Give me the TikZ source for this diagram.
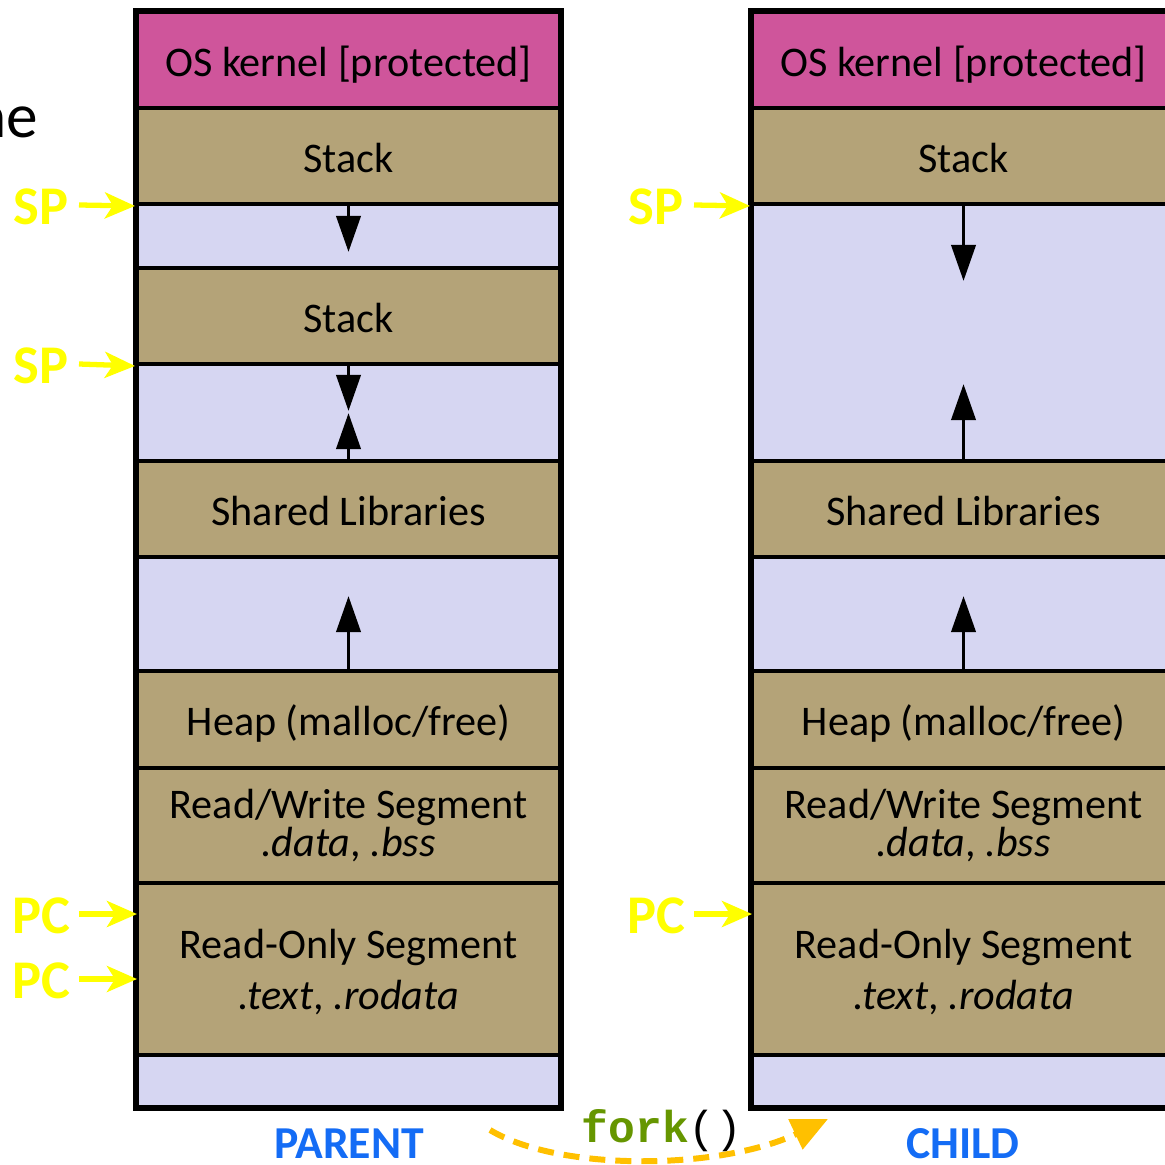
\documentclass[tikz,border=0pt]{standalone}
\usepackage{fontspec}
\setmainfont{Carlito}
\setmonofont{Liberation Mono}
\usetikzlibrary{arrows.meta,calc}

\definecolor{kernelpink}{RGB}{207,85,155}
\definecolor{segtan}{RGB}{180,163,120}
\definecolor{freelav}{RGB}{214,214,242}
\definecolor{ptryellow}{RGB}{255,255,0}
\definecolor{procblue}{RGB}{20,108,245}
\definecolor{forkgreen}{RGB}{102,150,0}
\definecolor{forkorange}{RGB}{255,192,0}

\begin{document}
\begin{tikzpicture}[
    x=0.01cm, y=-0.01cm,
    seg/.style={
        draw=black,
        line width=1.1pt,
        inner sep=0pt,
        minimum width=4.23cm,
        font=\fontsize{12}{14.5}\selectfont,
        align=center
    },
    oneline/.style={text height=10.2pt, text depth=0.9pt},
    kernelseg/.style={seg, oneline, fill=kernelpink},
    usedseg/.style={seg, fill=segtan},
    freeseg/.style={seg, fill=freelav},
    growarrow/.style={
        -{Triangle[length=0.36cm, width=0.24cm]},
        line width=1.1pt
    },
    ptrlabel/.style={
        text=ptryellow,
        font=\fontsize{15.5}{16}\selectfont\bfseries,
        inner sep=0pt
    },
    ptrarrow/.style={
        -{Stealth[length=0.3cm, width=0.26cm, inset=0.08cm]},
        line width=1.5pt,
        draw=ptryellow
    },
    proclabel/.style={
        text=procblue,
        inner sep=0pt,
        font=\fontsize{13}{14}\selectfont\bfseries
    }
]
    \useasboundingbox (0,0) rectangle (1165,1164);

    % cut-off slide text
    \node[anchor=base east, font=\fontsize{18}{20}\selectfont, inner sep=0pt] (cutoff) at (39,138) {ne};

    % parent address space
    \node[kernelseg, minimum height=0.96cm] (kerL) at (348.5,60) {OS kernel [protected]};
    \node[usedseg, oneline, minimum height=0.96cm] (stkL) at (348.5,156) {Stack};
    \node[freeseg, minimum height=0.64cm] (frAL) at (348.5,236) {};
    \node[usedseg, oneline, minimum height=0.96cm] (stkBL) at (348.5,316) {Stack};
    \node[freeseg, minimum height=0.97cm] (frBL) at (348.5,412.5) {};
    \node[usedseg, oneline, minimum height=0.96cm] (libL) at (348.5,509) {Shared Libraries};
    \node[freeseg, minimum height=1.14cm] (frCL) at (348.5,614) {};
    \node[usedseg, oneline, minimum height=0.97cm] (heapL) at (348.5,719.5) {Heap (malloc/free)};
    \node[usedseg, minimum height=1.15cm] (rwL) at (348.5,825.5) {Read/Write Segment\\[-3.5pt]\textit{.data}, \textit{.bss}};
    \node[usedseg, text depth=0pt, minimum height=1.72cm] (roL) at (348.5,969) {Read-Only Segment\\\textit{.text}, \textit{.rodata}};
    \node[freeseg, minimum height=0.52cm] (frDL) at (348.5,1081) {};
    \draw[line width=1.3pt] (kerL.north west) rectangle (frDL.south east);

    % child address space
    \node[kernelseg, minimum height=0.96cm] (kerR) at (963.5,60) {OS kernel [protected]};
    \node[usedseg, oneline, minimum height=0.96cm] (stkR) at (963.5,156) {Stack};
    \node[freeseg, minimum height=2.57cm] (frAR) at (963.5,332.5) {};
    \node[usedseg, oneline, minimum height=0.96cm] (libR) at (963.5,509) {Shared Libraries};
    \node[freeseg, minimum height=1.14cm] (frCR) at (963.5,614) {};
    \node[usedseg, oneline, minimum height=0.97cm] (heapR) at (963.5,719.5) {Heap (malloc/free)};
    \node[usedseg, minimum height=1.15cm] (rwR) at (963.5,825.5) {Read/Write Segment\\[-3.5pt]\textit{.data}, \textit{.bss}};
    \node[usedseg, text depth=0pt, minimum height=1.72cm] (roR) at (963.5,969) {Read-Only Segment\\\textit{.text}, \textit{.rodata}};
    \node[freeseg, minimum height=0.52cm] (frDR) at (963.5,1081) {};
    \draw[line width=1.3pt] (kerR.north west) rectangle (frDR.south east);

    % growth arrows
    \coordinate (tipAL) at (348.5,252);
    \coordinate (tipBL) at (348.5,411);
    \coordinate (tipCL) at (348.5,413);
    \coordinate (tipDL) at (348.5,596);
    \draw[growarrow] (stkL.south) -- (tipAL);
    \draw[growarrow] (stkBL.south) -- (tipBL);
    \draw[growarrow] (libL.north) -- (tipCL);
    \draw[growarrow] (heapL.north) -- (tipDL);

    \coordinate (tipAR) at (963.5,281);
    \coordinate (tipBR) at (963.5,384);
    \coordinate (tipDR) at (963.5,596);
    \draw[growarrow] (stkR.south) -- (tipAR);
    \draw[growarrow] (libR.north) -- (tipBR);
    \draw[growarrow] (heapR.north) -- (tipDR);

    % stack and program counters
    \node[ptrlabel, anchor=east] (spAL) at (69,207) {SP};
    \node[ptrlabel, anchor=east] (spBL) at (69,366) {SP};
    \node[ptrlabel, anchor=east] (pcAL) at (71,916) {PC};
    \node[ptrlabel, anchor=east] (pcBL) at (71,981) {PC};
    \node[ptrlabel, anchor=east] (spAR) at (684,207) {SP};
    \node[ptrlabel, anchor=east] (pcAR) at (686,916) {PC};
    \coordinate (pcAtL) at (137,914);
    \coordinate (pcBtL) at (137,979);
    \coordinate (pcAtR) at (752,914);
    \draw[ptrarrow] (spAL.east) ++(10,-2) -- (stkL.south west);
    \draw[ptrarrow] (spBL.east) ++(10,-2) -- (stkBL.south west);
    \draw[ptrarrow] (pcAL.east) ++(8,-2) -- (pcAtL);
    \draw[ptrarrow] (pcBL.east) ++(8,-2) -- (pcBtL);
    \draw[ptrarrow] (spAR.east) ++(10,-2) -- (stkR.south west);
    \draw[ptrarrow] (pcAR.east) ++(8,-2) -- (pcAtR);

    % process names and fork
    \node[proclabel] (parent) at (349,1144) {PARENT};
    \node[proclabel] (child) at (963,1144) {CHILD};
    \node[font=\fontsize{12.7}{14}\selectfont\ttfamily] (fork) at (662,1131) {\textcolor{forkgreen}{\textbf{fork}}()};
    \coordinate (forkS) at (490,1130);
    \coordinate (forkE) at (828,1119);
    \draw[forkorange, line width=1.7pt, dash pattern=on 0.16cm off 0.1cm,
        -{Triangle[length=0.36cm, width=0.32cm]}]
        (forkS) .. controls (560,1172) and (720,1170) .. (forkE);
\end{tikzpicture}
\end{document}
